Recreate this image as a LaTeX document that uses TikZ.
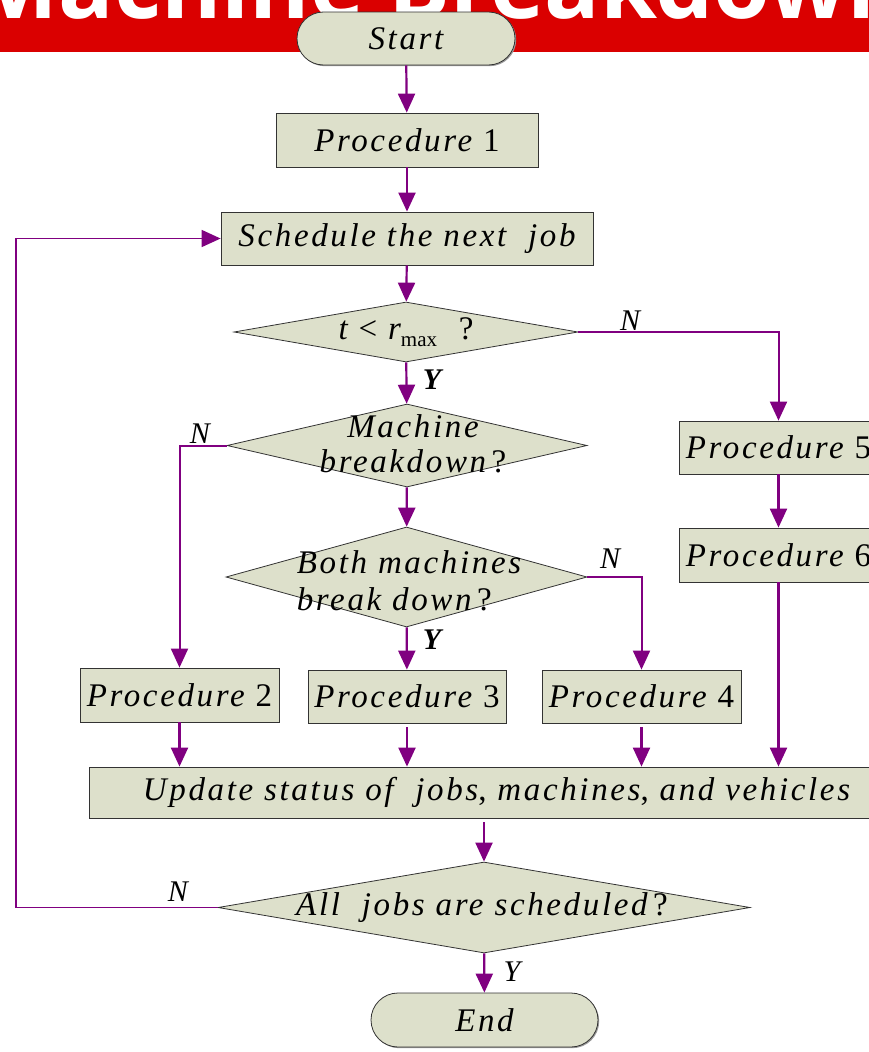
\documentclass[tikz,border=0pt]{standalone}
\usepackage{fontspec}
\setmainfont{Liberation Serif}
\newfontfamily\flowfont[LetterSpace=8]{Liberation Serif}
\newfontfamily\bannerfont{Open Sans}
\usetikzlibrary{shapes.geometric,shapes.misc,arrows.meta,shadows}
\definecolor{boxfill}{RGB}{221,224,203}
\definecolor{flowpurple}{RGB}{128,0,128}
\definecolor{bannerred}{RGB}{218,0,0}
\begin{document}
\begin{tikzpicture}[x=1pt,y=-1pt,
  flowtext/.style={font=\flowfont\itshape\fontsize{33}{35}\selectfont},
  proc/.style={rectangle, draw=black!80, line width=0.8pt, fill=boxfill,
    inner sep=0pt, flowtext,
    drop shadow={shadow xshift=1.2pt, shadow yshift=-1.2pt, fill=black!40, opacity=1}},
  term/.style={proc, rounded rectangle},
  dia/.style={diamond, draw=black!80, line width=0.8pt, fill=boxfill, inner sep=0pt},
  diatext/.style={flowtext, align=center, inner sep=0pt},
  flow/.style={draw=flowpurple, line width=2.2pt, -{Triangle[width=17pt,length=19pt]}},
  branch/.style={flow, line width=2pt},
  backline/.style={flow, line width=1.7pt},
  lab/.style={font=\itshape\fontsize{30}{30}\selectfont, inner sep=0pt},
  boldlab/.style={lab, font=\bfseries\itshape\fontsize{30}{30}\selectfont},
  banner/.style={font=\bannerfont\bfseries\fontsize{92}{92}\selectfont, text=white, inner sep=0pt, anchor=base}
]
\path[use as bounding box] (0,0) rectangle (869,1052);
\clip (0,0) rectangle (869,1052);

% title bar
\fill[bannerred] (0,0) rectangle (869,52);
\node[banner] (title) at (440,19) {Machine Breakdown};

% terminals and process boxes
\node[term, minimum width=218pt, minimum height=53pt] (start) at (406,38.5) {Start};
\node[proc, minimum width=262pt, minimum height=54pt] (p1) at (407,140) {Procedure {\upshape 1}};
\node[proc, minimum width=372pt, minimum height=53pt] (sched) at (407,238.5) {Schedule the next\ \ job};

% decisions
\node[dia, minimum width=344pt, minimum height=60pt] (d1) at (406,332) {};
\node[diatext] (d1t) at (406,332)
  {t {\upshape<} r\raisebox{-7pt}{\rmfamily\upshape\fontsize{21}{21}\selectfont max}\ \ {\upshape ?}};
\node[dia, minimum width=360pt, minimum height=83pt] (d2) at (407,445.5) {};
\node[diatext] (d2t) at (413,444) {Machine\\breakdown\,{\upshape ?}};
\node[dia, minimum width=361pt, minimum height=100pt] (d3) at (406.5,577) {};
\node[diatext, align=left, font=\flowfont\itshape\fontsize{33}{37}\selectfont] (d3t) at (409,581) {Both machines\\break down\,{\upshape ?}};

% procedures
\node[proc, minimum width=199pt, minimum height=54pt] (p2) at (179.5,695) {Procedure {\upshape 2}};
\node[proc, minimum width=198pt, minimum height=53pt] (p3) at (407,696.5) {Procedure {\upshape 3}};
\node[proc, minimum width=199pt, minimum height=53pt] (p4) at (641.5,696.5) {Procedure {\upshape 4}};
\node[proc, minimum width=199pt, minimum height=53pt] (p5) at (778.5,447.5) {Procedure {\upshape 5}};
\node[proc, minimum width=199pt, minimum height=54pt] (p6) at (778.5,555) {Procedure {\upshape 6}};

\node[proc, minimum width=815pt, minimum height=51pt] (upd) at (496.5,792.5)
  {Update status of\ \ jobs{\upshape ,} machines{\upshape ,} and vehicles};

\node[dia, minimum width=532pt, minimum height=91pt] (d4) at (484,907.5) {};
\node[diatext] (d4t) at (482,908) {All\ \ jobs are scheduled\,{\upshape ?}};
\node[term, minimum width=227pt, minimum height=54pt] (end) at (484.5,1020) {End};

% main flow
\draw[flow] (start) -- (p1);
\draw[flow] (p1) -- (sched);
\draw[flow] (sched) -- (d1);
\draw[flow] (d1) -- (d2);
\draw[flow] (d2) -- (d3);
\draw[flow] (d3) -- (p3);
\draw[branch] (d1.east) -| (p5.north);
\draw[branch] (d2.west) -| (p2.north);
\draw[branch] (d3.east) -| (p4.north);
\draw[flow] (p5) -- (p6);
\draw[flow] (p2.south) -- (p2.south |- upd.north);
\draw[flow] ([yshift=-4pt]p3.south) -- (p3.south |- upd.north);
\draw[flow] ([yshift=-4pt]p4.south) -- (p4.south |- upd.north);
\draw[flow] (p6.south) -- (p6.south |- upd.north);
\draw[flow] ([yshift=-4pt]d4.north |- upd.south) -- (d4.north);
\draw[flow] (d4) -- (end);

% return path to the scheduling step
\coordinate (lp) at (16,0);
\draw[backline] (d4.west) -- (d4.west -| lp) |- (sched.west);

% branch labels
\node[boldlab] (y1) at (432,380) {Y};
\node[lab] (n1) at (630,321) {N};
\node[lab] (n2) at (200,434) {N};
\node[lab] (n3) at (610,559) {N};
\node[boldlab] (y3) at (432,640) {Y};
\node[lab] (n4) at (178,892) {N};
\node[lab] (y4) at (512,972) {Y};
\end{tikzpicture}
\end{document}
